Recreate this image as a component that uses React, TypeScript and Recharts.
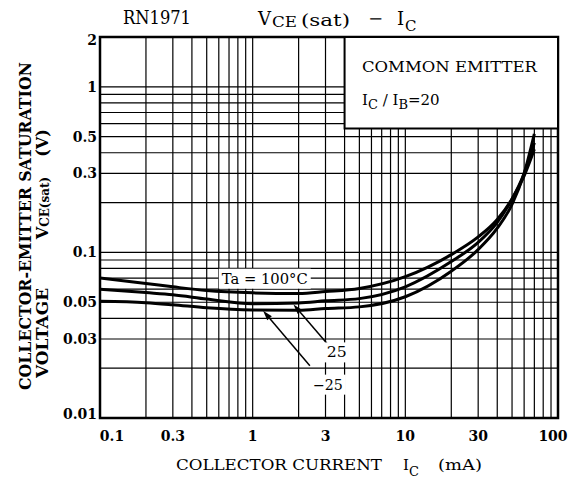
import React from "react"
import {
  LineChart,
  Line,
  XAxis,
  YAxis,
  CartesianGrid,
  ReferenceArea,
  ReferenceLine,
  ReferenceDot,
} from "recharts"

// collector current (mA) and VCE(sat) (V)
const currents = [0.1, 0.2, 0.3, 0.5, 1, 2, 3, 5, 10, 20, 30, 40, 50, 60, 70]
const vce100 = [0.07, 0.065, 0.062, 0.0588, 0.057, 0.0565, 0.058, 0.0606, 0.0714, 0.097, 0.124, 0.158, 0.21, 0.29, 0.42]
const vce25 = [0.06, 0.0572, 0.0555, 0.0523, 0.049, 0.0495, 0.051, 0.0526, 0.062, 0.088, 0.115, 0.152, 0.21, 0.3, 0.46]
const vceMinus25 = [0.0507, 0.0497, 0.0483, 0.0463, 0.0449, 0.0447, 0.0458, 0.0469, 0.054, 0.077, 0.104, 0.14, 0.195, 0.3, 0.52]

const xGrid = [
  0.1, 0.2, 0.3, 0.4, 0.5, 0.6, 0.7, 0.8, 0.9,
  1, 2, 3, 4, 5, 6, 7, 8, 9,
  10, 20, 30, 40, 50, 60, 70, 80, 90, 100,
]
const yGrid = [
  0.01, 0.02, 0.03, 0.04, 0.05, 0.06, 0.07, 0.08, 0.09,
  0.1, 0.2, 0.3, 0.4, 0.5, 0.6, 0.7, 0.8, 0.9, 1, 2,
]
const xLabels = [0.1, 0.3, 1, 3, 10, 30, 100]
const yLabels = [0.01, 0.03, 0.05, 0.1, 0.3, 0.5, 1, 2]

const rows = currents.map((ic, i) => ({
  ic,
  t100: vce100[i],
  t25: vce25[i],
  tm25: vceMinus25[i],
}))

const SERIF = "'DejaVu Serif', 'Liberation Serif', serif"

function XTick(props: any) {
  const { x, y, payload } = props
  const v = payload.value
  if (!xLabels.includes(v)) return null
  const dx = v === 0.1 ? 12 : v === 100 ? -5 : 0
  return (
    <text x={x + dx} y={y + 15} textAnchor="middle" fontFamily={SERIF} fontWeight="bold" fontSize={14} fill="#000">
      {v}
    </text>
  )
}

function YTick(props: any) {
  const { x, y, payload } = props
  const v = payload.value
  if (!yLabels.includes(v)) return null
  const dy = v === 0.01 ? -4 : v === 2 ? 3 : 0
  return (
    <text x={x + 5} y={y + 5 + dy} textAnchor="end" fontFamily={SERIF} fontWeight="bold" fontSize={14} fill="#000">
      {v}
    </text>
  )
}

function Arrow(props: any) {
  const { x1, y1, x2, y2 } = props
  const a = Math.atan2(y2 - y1, x2 - x1)
  const len = 10
  const w = 3
  const bx = x2 - len * Math.cos(a)
  const by = y2 - len * Math.sin(a)
  const px = -Math.sin(a) * w
  const py = Math.cos(a) * w
  return (
    <g>
      <line x1={x1} y1={y1} x2={bx} y2={by} stroke="#000" strokeWidth={1.5} />
      <polygon points={`${x2},${y2} ${bx + px},${by + py} ${bx - px},${by - py}`} fill="#000" />
    </g>
  )
}

const tag = (text: string, w: number) => (p: any) => (
  <g>
    <rect x={p.cx - w / 2 - 3} y={p.cy - 10} width={w + 6} height={20} fill="#fff" />
    <text
      x={p.cx}
      y={p.cy + 5}
      textAnchor="middle"
      fontFamily={SERIF}
      fontSize={14}
      textLength={w}
      lengthAdjust="spacingAndGlyphs"
      fill="#000"
    >
      {text}
    </text>
  </g>
)

function rotated(cx: number, cy: number) {
  return `rotate(-90 ${cx} ${cy})`
}

export default function App() {
  return (
    <div style={{ position: "absolute", left: 0, top: 0, width: 583, height: 484, background: "#fff" }}>
      <LineChart
        width={583}
        height={484}
        data={rows}
        margin={{ top: 37, right: 25, left: 0, bottom: 0 }}
      >
        <CartesianGrid stroke="#000" strokeWidth={1.2} strokeOpacity={1} />
        <XAxis
          dataKey="ic"
          type="number"
          scale="log"
          domain={[0.1, 100]}
          ticks={xGrid}
          interval={0}
          tick={<XTick />}
          tickLine={false}
          axisLine={false}
          height={66}
          allowDataOverflow
        />
        <YAxis
          type="number"
          scale="log"
          domain={[0.01, 2]}
          ticks={yGrid}
          interval={0}
          tick={<YTick />}
          tickLine={false}
          axisLine={false}
          width={100}
          allowDataOverflow
        />
        <ReferenceArea x1={0.1} x2={100} y1={0.01} y2={2} fill="none" stroke="#000" strokeWidth={2.5} />
        <ReferenceArea x1={4} x2={100} y1={0.56} y2={2} fill="#fff" fillOpacity={1} stroke="#000" strokeWidth={2} />
        <ReferenceDot x={1.2} y={0.0694} r={0} shape={tag("Ta = 100°C", 86)} />
        <ReferenceDot x={3.56} y={0.0249} r={0} shape={tag("25", 20)} />
        <ReferenceDot x={3.11} y={0.0159} r={0} shape={tag("−25", 30)} />
        <ReferenceLine segment={[{ x: 3.1, y: 0.0279 }, { x: 1.85, y: 0.0485 }]} shape={Arrow} />
        <ReferenceLine segment={[{ x: 2.37, y: 0.0207 }, { x: 1.17, y: 0.0445 }]} shape={Arrow} />
        <Line type="monotone" dataKey="t100" stroke="#000" strokeWidth={3} dot={false} isAnimationActive={false} />
        <Line type="monotone" dataKey="t25" stroke="#000" strokeWidth={3} dot={false} isAnimationActive={false} />
        <Line type="monotone" dataKey="tm25" stroke="#000" strokeWidth={3} dot={false} isAnimationActive={false} />
      </LineChart>
      <svg
        width={583}
        height={484}
        style={{ position: "absolute", left: 0, top: 0, pointerEvents: "none" }}
        fontFamily={SERIF}
        fill="#000"
      >
        <text x={123} y={24} fontSize={18} textLength={68} lengthAdjust="spacingAndGlyphs">RN1971</text>
        <text x={258} y={25} fontSize={18}>V</text>
        <text x={272} y={27} fontSize={15} textLength={25} lengthAdjust="spacingAndGlyphs">CE</text>
        <text x={301} y={26} fontSize={16} textLength={49} lengthAdjust="spacingAndGlyphs">(sat)</text>
        <text x={368} y={24} fontSize={16} textLength={15} lengthAdjust="spacingAndGlyphs">−</text>
        <text x={397} y={25} fontSize={18}>I</text>
        <text x={405} y={31} fontSize={15}>C</text>

        <text x={362} y={72} fontSize={15} textLength={175} lengthAdjust="spacingAndGlyphs">COMMON EMITTER</text>
        <text x={362} y={105} fontSize={15}>
          I<tspan fontSize={13} dy={4}>C</tspan>
          <tspan dy={-4}> / I</tspan>
          <tspan fontSize={13} dy={4}>B</tspan>
          <tspan dy={-4}>=20</tspan>
        </text>

        <text x={176} y={470} fontSize={15} textLength={206} lengthAdjust="spacingAndGlyphs">COLLECTOR CURRENT</text>
        <text x={403} y={470} fontSize={15}>I</text>
        <text x={409} y={476} fontSize={13}>C</text>
        <text x={438} y={470} fontSize={15} textLength={44} lengthAdjust="spacingAndGlyphs">(mA)</text>

        <g fontWeight="bold">
          <text
            x={25}
            y={226}
            transform={rotated(25, 226)}
            textAnchor="middle"
            dominantBaseline="central"
            fontSize={16}
            textLength={328}
            lengthAdjust="spacingAndGlyphs"
          >
            COLLECTOR-EMITTER SATURATION
          </text>
          <text
            x={42}
            y={333}
            transform={rotated(42, 333)}
            textAnchor="middle"
            dominantBaseline="central"
            fontSize={16}
            textLength={90}
            lengthAdjust="spacingAndGlyphs"
          >
            VOLTAGE
          </text>
          <text x={42} y={208} transform={rotated(42, 208)} textAnchor="middle" dominantBaseline="central" fontSize={16}>
            V<tspan fontSize={12} dy={3}>CE(sat)</tspan>
          </text>
          <text x={42} y={143} transform={rotated(42, 143)} textAnchor="middle" dominantBaseline="central" fontSize={16}>
            (V)
          </text>
        </g>
      </svg>
    </div>
  )
}
